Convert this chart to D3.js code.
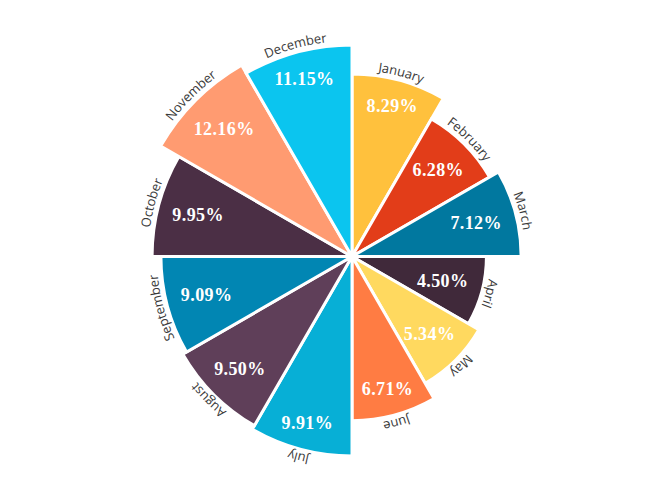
<!DOCTYPE html>
<html><head><meta charset="utf-8">
<script src="https://cdn.jsdelivr.net/npm/d3@7"></script>
<style>body{margin:0;background:#fff}svg{display:block}</style>
</head><body>
<svg id="c" width="670" height="500"></svg>
<script>
const months = ["January","February","March","April","May","June","July","August","September","October","November","December"];
const values = [8.29, 6.28, 7.12, 4.50, 5.34, 6.71, 9.91, 9.50, 9.09, 9.95, 12.16, 11.15];
const valueLabels = ["8.29%","6.28%","7.12%","4.50%","5.34%","6.71%","9.91%","9.50%","9.09%","9.95%","12.16%","11.15%"];
const colors = ["#FFC13D","#E23D19","#01789F","#40293A","#FFD95F","#FF7C43","#07AFD6","#5F3F59","#0186B3","#4B2F45","#FF9B71","#0BC5EF"];

const data = months.map((m,i)=>({month:m, value:values[i], label:valueLabels[i], color:colors[i]}));
const svg = d3.select("#c");
const g = svg.append("g").attr("transform","translate(352,256.5)");

const ang = d3.scaleBand().domain(months).range([0, 2*Math.PI]);
const rad = d3.scaleSqrt().domain([0, d3.max(values)]).range([0, 221]);

const arc = d3.arc()
  .innerRadius(0)
  .outerRadius(d=>rad(d.value))
  .startAngle(d=>ang(d.month))
  .endAngle(d=>ang(d.month)+ang.bandwidth());

g.selectAll("path.slice").data(data).join("path")
  .attr("class","slice")
  .attr("d",arc)
  .attr("fill",d=>d.color)
  .attr("stroke","#fff")
  .attr("stroke-width",3)
  .attr("stroke-linejoin","miter");

// month labels along arcs
const defs = svg.append("defs");
data.forEach((d,i)=>{
  const mid = ang(d.month)+ang.bandwidth()/2;
  const R = rad(d.value)+4;
  const a0 = mid - Math.PI/2, a1 = mid + Math.PI/2;
  const p = d3.path();
  p.arc(0,0,R,a0-Math.PI/2,a1-Math.PI/2,false);
  defs.append("path").attr("id","mp"+i).attr("d",p.toString());
});
g.selectAll("text.month").data(data).join("text")
  .attr("class","month")
  .attr("font-family","'Open Sans', sans-serif")
  .attr("font-size",13)
  .attr("fill","#3a3a3a")
  .append("textPath")
  .attr("href",(d,i)=>"#mp"+i)
  .attr("startOffset","50%")
  .attr("text-anchor","middle")
  .text(d=>d.month);

// value labels
const vl = g.selectAll("text.val").data(data).join("text")
  .attr("class","val")
  .attr("font-family","'Liberation Serif', 'Times New Roman', serif")
  .attr("font-weight","bold")
  .attr("font-size",18)
  .attr("letter-spacing",0.4)
  .attr("fill","#fff")
  .attr("text-anchor","middle")
  .attr("dominant-baseline","central")
  .text(d=>d.label);
vl.each(function(d){
  const w = this.getComputedTextLength();
  const h = 13;
  const mid = ang(d.month)+ang.bandwidth()/2;
  const ux = Math.sin(mid), uy = -Math.cos(mid);
  const ext = Math.abs(ux)*w/2 + Math.abs(uy)*h/2;
  const r = rad(d.value) - 14 - ext;
  d3.select(this).attr("x", ux*r).attr("y", uy*r);
});
</script>
</body></html>
